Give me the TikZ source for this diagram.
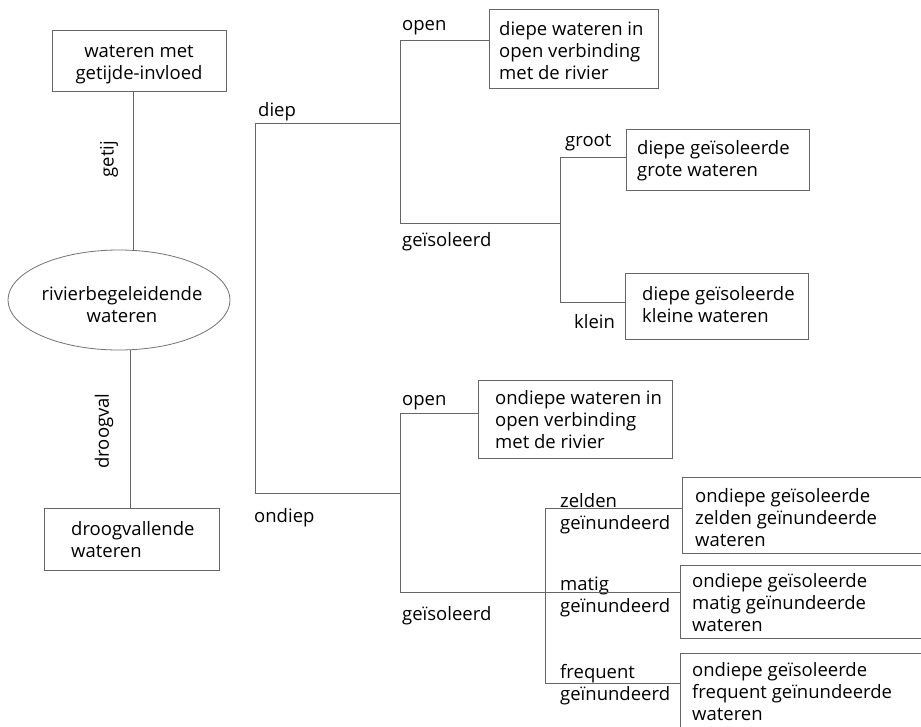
\documentclass[tikz,border=0pt]{standalone}
\usepackage{fontspec}
\setmainfont{Open Sans}
\usetikzlibrary{shapes.geometric,calc}
\tikzset{
  ln/.style={draw=black!60, line width=0.8pt},
  boxr/.style={draw=black!60, line width=0.8pt, rectangle, inner sep=0pt},
  ell/.style={draw=black!55, line width=0.8pt, ellipse, inner sep=0pt},
  txt/.style={font=\fontsize{18.5}{22}\selectfont, inner sep=0pt, align=left},
  ctxt/.style={font=\fontsize{18.5}{22}\selectfont, inner sep=0pt, align=center},
  lbl/.style={font=\fontsize{18.5}{22}\selectfont, inner sep=0pt}
}
\newcommand{\tstrut}{\rule{0pt}{15pt}}
\begin{document}
\begin{tikzpicture}[x=1pt,y=-1pt]
\clip (0,0) rectangle (921,726);
\fill[white] (0,0) rectangle (921,726);

% boxes
\node[boxr, minimum width=174pt, minimum height=61pt] (b1) at (139,60.5) {};
\node[ctxt, anchor=north] (t1) at (139,42) {\tstrut wateren met\\getijde-invloed};

\node[ell, minimum width=222pt, minimum height=100pt] (E) at (119,300) {};
\node[ctxt, anchor=north] (tE) at (122,285) {\tstrut rivierbegeleidende\\wateren};

\node[boxr, minimum width=175pt, minimum height=62pt] (b2) at (131.5,539) {};
\node[txt, anchor=north west] (t2) at (71,520) {\tstrut droogvallende\\wateren};

\node[boxr, minimum width=169pt, minimum height=79pt] (b3) at (573.5,48.5) {};
\node[txt, anchor=north west] (t3) at (499,20) {\tstrut diepe wateren in\\open verbinding\\met de rivier};

\node[boxr, minimum width=183pt, minimum height=61pt] (b4) at (717.5,159.5) {};
\node[txt, anchor=north west] (t4) at (637,139) {\tstrut diepe geïsoleerde\\grote wateren};

\node[boxr, minimum width=183pt, minimum height=66pt] (b5) at (716.5,306) {};
\node[txt, anchor=north west] (t5) at (642,285) {\tstrut diepe geïsoleerde\\kleine wateren};

\node[boxr, minimum width=194pt, minimum height=78pt] (b6) at (575,419) {};
\node[txt, anchor=north west] (t6) at (495,389) {\tstrut ondiepe wateren in\\open verbinding\\met de rivier};

\node[boxr, minimum width=278pt, minimum height=76pt] (b7) at (821,515) {};
\node[txt, anchor=north west] (t7) at (695,487) {\tstrut ondiepe geïsoleerde\\zelden geïnundeerde\\wateren};

\node[boxr, minimum width=280pt, minimum height=73pt] (b8) at (820,601.5) {};
\node[txt, anchor=north west] (t8) at (692,572) {\tstrut ondiepe geïsoleerde\\matig geïnundeerde\\wateren};

\node[boxr, minimum width=280pt, minimum height=107pt] (b9) at (820,706.5) {};
\node[txt, anchor=north west] (t9) at (692,661) {\tstrut ondiepe geïsoleerde\\frequent geïnundeerde\\wateren};

% labels
\node[lbl, rotate=90] (lgetij) at (109,159) {getij};
\node[lbl, rotate=90] (ldroog) at (104,431) {droogval};
\node[lbl, anchor=base west] (ldiep) at (258,116) {diep};
\node[lbl, anchor=base west] (londiep) at (254,522) {ondiep};
\node[lbl, anchor=base west] (lopen1) at (402,30) {open};
\node[lbl, anchor=base west] (liso1) at (402,246) {geïsoleerd};
\node[lbl, anchor=base west] (lgroot) at (565,146) {groot};
\node[lbl, anchor=base west] (lklein) at (574,328) {klein};
\node[lbl, anchor=base west] (lopen2) at (402,405) {open};
\node[lbl, anchor=base west] (liso2) at (402,620) {geïsoleerd};
\node[txt, anchor=north west] (lzelden) at (560,492) {\tstrut zelden\\geïnundeerd};
\node[txt, anchor=north west] (lmatig) at (560,575) {\tstrut matig\\geïnundeerd};
\node[txt, anchor=north west] (lfreq) at (560,663) {\tstrut frequent\\geïnundeerd};

% junction coordinates
\coordinate (gx) at (133,0);
\coordinate (dx) at (130,0);
\coordinate (dT) at (255,123);
\coordinate (dB) at (255,493);
\coordinate (k1T) at (400,40);
\coordinate (k1M) at (400,123);
\coordinate (k1B) at (400,223);
\coordinate (k2T) at (560,157);
\coordinate (k2M) at (560,223);
\coordinate (k2B) at (560,302);
\coordinate (k3T) at (400,413);
\coordinate (k3M) at (400,493);
\coordinate (k3B) at (400,592);
\coordinate (k4T) at (545,508);
\coordinate (k4M) at (545,592);
\coordinate (k4B) at (545,683);

% connectors
\draw[ln] (b1.south -| gx) -- (E.north -| gx);
\draw[ln] (b2.north -| dx) -- (E.south -| dx);
\draw[ln] (dT) -- (dB);
\draw[ln] (dT) -- (k1M);
\draw[ln] (dB) -- (k3M);
\draw[ln] (k1T) -- (k1B);
\draw[ln] (k1T) -- (k1T -| b3.west);
\draw[ln] (k1B) -- (k2M);
\draw[ln] (k2T) -- (k2B);
\draw[ln] (k2T) -- (k2T -| b4.west);
\draw[ln] (k2B) -- (k2B -| b5.west);
\draw[ln] (k3T) -- (k3B);
\draw[ln] (k3T) -- (k3T -| b6.west);
\draw[ln] (k3B) -- (k4M);
\draw[ln] (k4T) -- (k4B);
\draw[ln] (k4T) -- (k4T -| b7.west);
\draw[ln] (k4M) -- (k4M -| b8.west);
\draw[ln] (k4B) -- (k4B -| b9.west);
\end{tikzpicture}
\end{document}
